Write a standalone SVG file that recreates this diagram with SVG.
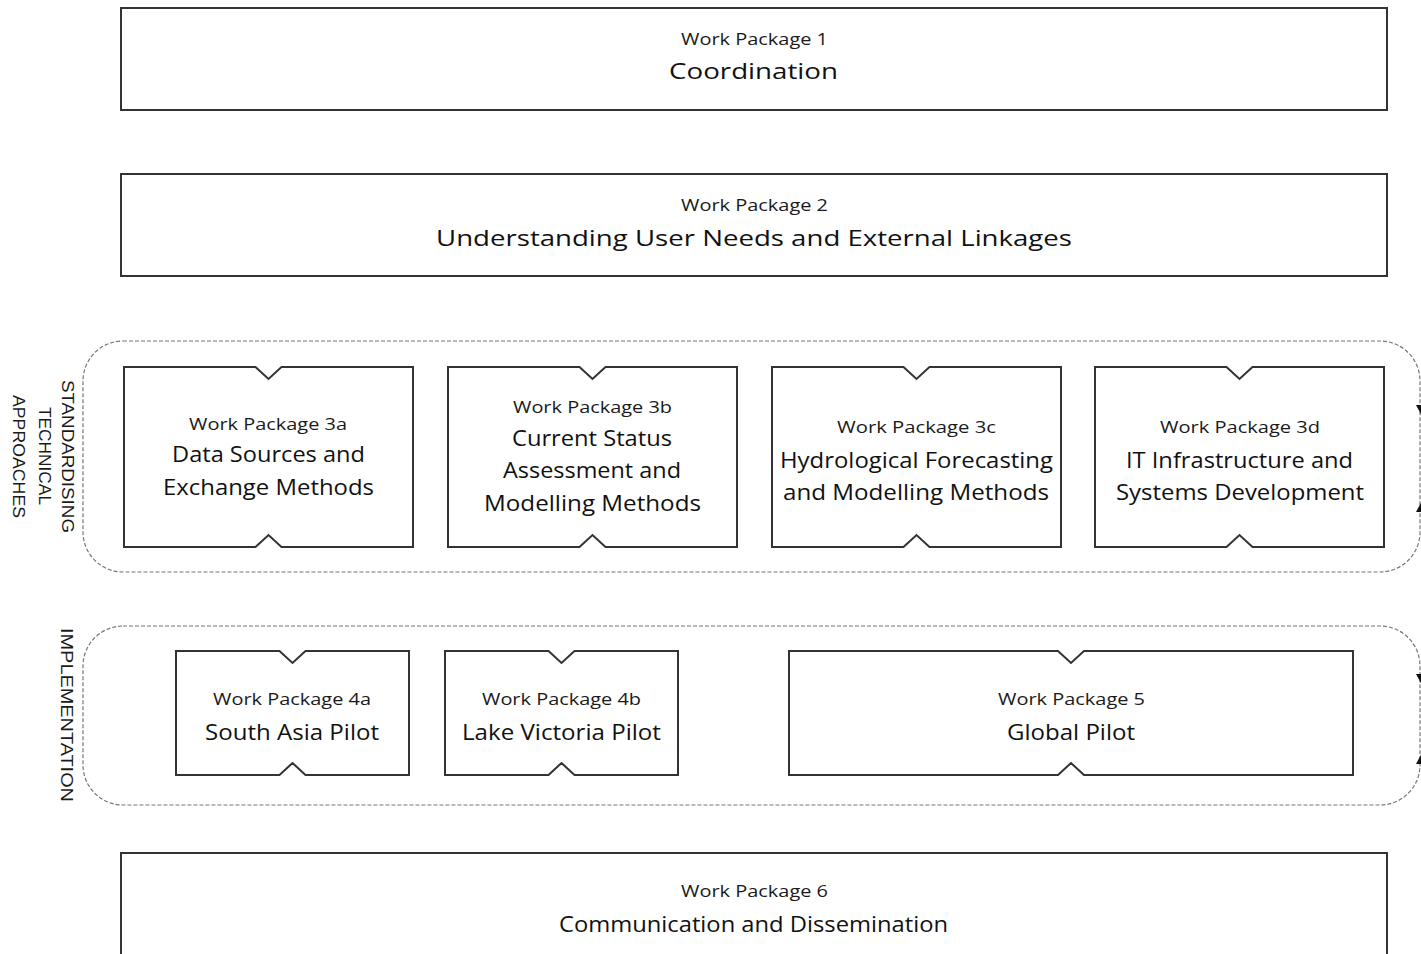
<svg xmlns="http://www.w3.org/2000/svg" width="1421" height="954" viewBox="0 0 1421 954">
<style>
.box{fill:#fff;stroke:#333;stroke-width:2}
.grp{fill:none;stroke:#777;stroke-width:1.2;stroke-dasharray:4 2}
.sm{font-family:"Open Sans",sans-serif;font-size:17px;fill:#1a1a1a;text-anchor:middle}
.lg{font-family:"Open Sans",sans-serif;font-size:22.5px;fill:#111;text-anchor:middle}
.side{font-family:"Liberation Sans",Arial,sans-serif;font-size:16px;fill:#1a1a1a;text-anchor:middle}
.mk{fill:#111}
</style>
<rect width="1421" height="954" fill="#fff"/>
<g id="group-standardising">
<rect class="grp" x="83" y="341" width="1337" height="231" rx="40"/>
<text class="side" transform="translate(62,456.5) rotate(90)" textLength="153" lengthAdjust="spacingAndGlyphs">STANDARDISING</text>
<text class="side" transform="translate(39,456) rotate(90)" textLength="98" lengthAdjust="spacingAndGlyphs">TECHNICAL</text>
<text class="side" transform="translate(13,456.5) rotate(90)" textLength="123" lengthAdjust="spacingAndGlyphs">APPROACHES</text>
</g>
<g id="group-implementation">
<rect class="grp" x="83" y="626" width="1337" height="179" rx="40"/>
<text class="side" transform="translate(61,715) rotate(90)" textLength="174" lengthAdjust="spacingAndGlyphs">IMPLEMENTATION</text>
</g>
<g id="wp1">
<rect class="box" x="121" y="8" width="1266" height="102"/>
<text class="sm" transform="translate(754.5,45) scale(1.2,1)" textLength="122.5" lengthAdjust="spacingAndGlyphs">Work Package 1</text>
<text class="lg" transform="translate(753.5,79) scale(1.2,1)" textLength="140.8" lengthAdjust="spacingAndGlyphs">Coordination</text>
</g>
<g id="wp2">
<rect class="box" x="121" y="174" width="1266" height="102"/>
<text class="sm" transform="translate(754.5,211) scale(1.2,1)" textLength="122.5" lengthAdjust="spacingAndGlyphs">Work Package 2</text>
<text class="lg" transform="translate(754,246) scale(1.2,1)" textLength="530" lengthAdjust="spacingAndGlyphs">Understanding User Needs and External Linkages</text>
</g>
<g id="wp3a">
<path class="box" d="M124 367 H255.5 L268.5 379 L281.5 367 H413 V547 H281.5 L268.5 535 L255.5 547 H124 Z"/>
<text class="sm" transform="translate(268,430) scale(1.2,1)" textLength="131.7" lengthAdjust="spacingAndGlyphs">Work Package 3a</text>
<text class="lg" transform="translate(268.5,462) scale(1.2,1)" textLength="160.8" lengthAdjust="spacingAndGlyphs">Data Sources and</text>
<text class="lg" transform="translate(268.5,495) scale(1.2,1)" textLength="175.8" lengthAdjust="spacingAndGlyphs">Exchange Methods</text>
</g>
<g id="wp3b">
<path class="box" d="M448 367 H579.5 L592.5 379 L605.5 367 H737 V547 H605.5 L592.5 535 L579.5 547 H448 Z"/>
<text class="sm" transform="translate(592.5,413) scale(1.2,1)" textLength="132.5" lengthAdjust="spacingAndGlyphs">Work Package 3b</text>
<text class="lg" transform="translate(592,446) scale(1.2,1)" textLength="133.3" lengthAdjust="spacingAndGlyphs">Current Status</text>
<text class="lg" transform="translate(592,478) scale(1.2,1)" textLength="148.3" lengthAdjust="spacingAndGlyphs">Assessment and</text>
<text class="lg" transform="translate(592.5,511) scale(1.2,1)" textLength="180.8" lengthAdjust="spacingAndGlyphs">Modelling Methods</text>
</g>
<g id="wp3c">
<path class="box" d="M772 367 H903.5 L916.5 379 L929.5 367 H1061 V547 H929.5 L916.5 535 L903.5 547 H772 Z"/>
<text class="sm" transform="translate(916.5,433) scale(1.2,1)" textLength="132.5" lengthAdjust="spacingAndGlyphs">Work Package 3c</text>
<text class="lg" transform="translate(916.5,468) scale(1.2,1)" textLength="227.5" lengthAdjust="spacingAndGlyphs">Hydrological Forecasting</text>
<text class="lg" transform="translate(916,500) scale(1.2,1)" textLength="221.7" lengthAdjust="spacingAndGlyphs">and Modelling Methods</text>
</g>
<g id="wp3d">
<path class="box" d="M1095 367 H1226.5 L1239.5 379 L1252.5 367 H1384 V547 H1252.5 L1239.5 535 L1226.5 547 H1095 Z"/>
<text class="sm" transform="translate(1240,433) scale(1.2,1)" textLength="133.3" lengthAdjust="spacingAndGlyphs">Work Package 3d</text>
<text class="lg" transform="translate(1239.5,468) scale(1.2,1)" textLength="189.2" lengthAdjust="spacingAndGlyphs">IT Infrastructure and</text>
<text class="lg" transform="translate(1240,500) scale(1.2,1)" textLength="206.7" lengthAdjust="spacingAndGlyphs">Systems Development</text>
</g>
<g id="wp4a">
<path class="box" d="M176 651 H279.5 L292.5 663 L305.5 651 H409 V775 H305.5 L292.5 763 L279.5 775 H176 Z"/>
<text class="sm" transform="translate(292,705) scale(1.2,1)" textLength="131.7" lengthAdjust="spacingAndGlyphs">Work Package 4a</text>
<text class="lg" transform="translate(292,740) scale(1.2,1)" textLength="145" lengthAdjust="spacingAndGlyphs">South Asia Pilot</text>
</g>
<g id="wp4b">
<path class="box" d="M445 651 H548.5 L561.5 663 L574.5 651 H678 V775 H574.5 L561.5 763 L548.5 775 H445 Z"/>
<text class="sm" transform="translate(561.5,705) scale(1.2,1)" textLength="132.5" lengthAdjust="spacingAndGlyphs">Work Package 4b</text>
<text class="lg" transform="translate(561.5,740) scale(1.2,1)" textLength="165.8" lengthAdjust="spacingAndGlyphs">Lake Victoria Pilot</text>
</g>
<g id="wp5">
<path class="box" d="M789 651 H1058 L1071 663 L1084 651 H1353 V775 H1084 L1071 763 L1058 775 H789 Z"/>
<text class="sm" transform="translate(1071.5,705) scale(1.2,1)" textLength="122.5" lengthAdjust="spacingAndGlyphs">Work Package 5</text>
<text class="lg" transform="translate(1071,740) scale(1.2,1)" textLength="106.7" lengthAdjust="spacingAndGlyphs">Global Pilot</text>
</g>
<g id="wp6">
<rect class="box" x="121" y="853" width="1266" height="120"/>
<text class="sm" transform="translate(754.5,897) scale(1.2,1)" textLength="122.5" lengthAdjust="spacingAndGlyphs">Work Package 6</text>
<text class="lg" transform="translate(753.5,932) scale(1.2,1)" textLength="324.2" lengthAdjust="spacingAndGlyphs">Communication and Dissemination</text>
</g>
<g id="connectors">
<polygon class="mk" points="1416,405 1430,405 1423,418"/>
<polygon class="mk" points="1416,512 1430,512 1423,499"/>
<polygon class="mk" points="1416,674 1430,674 1423,687"/>
<polygon class="mk" points="1416,764 1430,764 1423,751"/>
</g>
</svg>
